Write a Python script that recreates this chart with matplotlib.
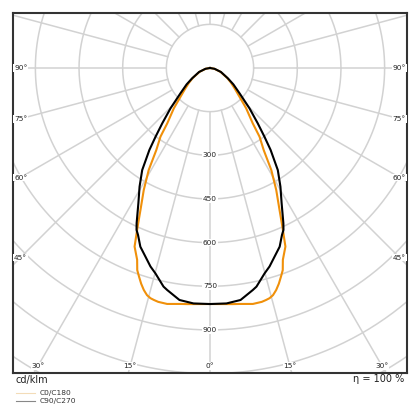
import numpy as np
import matplotlib
matplotlib.use("Agg")
import matplotlib.pyplot as plt
from matplotlib.lines import Line2D

c0_angle = [0, 5.5, 7.1, 10.3, 12.5, 13.6, 14.5, 15.5, 16.6, 17.7, 18.8, 19.8, 20.8,
            22.9, 24.5, 26.1, 28.5, 31, 33.2, 35.8, 37.7, 41.9, 45.8, 50, 55, 60,
            70, 80, 90]
c0_value = [811, 815, 817, 824, 823, 820, 817, 810, 796, 778, 757, 738, 705,
            666, 600, 543, 477, 409, 337, 291, 240, 186, 141, 112, 88, 68,
            38, 15, 0]

c90_angle = [0, 4, 7.5, 10.9, 12, 14.9, 16.7, 18.9, 21.3, 23.3, 24.4, 25.3,
             27.9, 30.7, 33.6, 36.5, 38.4, 40.8, 44.4, 49.4, 55, 60, 70, 80, 90]
c90_value = [811, 811, 804, 777, 768, 730, 712, 685, 659, 625, 611, 590,
             526, 474, 421, 350, 301, 251, 194, 134, 98, 71, 40, 16, 0]

ring_values = [150, 300, 450, 600, 750, 900, 1050, 1200, 1350, 1500]
ring_labels = [300, 450, 600, 750, 900]
side_angles = [45, 60, 75, 90]
bottom_angles = [0, 15, 30]

xmin, xmax = -676, 676
ymin, ymax = -1048, 189

orange = '#f0900a'
grid_col = '#d2d2d2'


def mirror(angle, value):
    a = np.array(angle, dtype=float)
    v = np.array(value, dtype=float)
    a = np.concatenate([-a[::-1], a[1:]])
    v = np.concatenate([v[::-1], v[1:]])
    t = np.radians(a)
    return v * np.sin(t), -v * np.cos(t)


fig = plt.figure(figsize=(4.2, 4.2), dpi=100)
ax = fig.add_axes([13/420, 47/420, 394/420, 360/420])
ax.set_xlim(xmin, xmax)
ax.set_ylim(ymin, ymax)
ax.set_aspect('equal')
ax.set_xticks([])
ax.set_yticks([])
for s in ax.spines.values():
    s.set_color('#333333')
    s.set_linewidth(1.5)

# grid
t = np.linspace(0, 2*np.pi, 400)
for r in ring_values:
    ax.plot(r*np.cos(t), r*np.sin(t), color=grid_col, lw=1.1, zorder=1)
for a in np.arange(0, 360, 15):
    ar = np.radians(a)
    ax.plot([150*np.sin(ar), 2000*np.sin(ar)], [-150*np.cos(ar), -2000*np.cos(ar)],
            color=grid_col, lw=1.1, zorder=1)

# curves
x, y = mirror(c0_angle, c0_value)
ax.plot(x, y, color=orange, lw=1.5, zorder=3, solid_joinstyle='round')
x, y = mirror(c90_angle, c90_value)
ax.plot(x, y, color='black', lw=1.5, zorder=4, solid_joinstyle='round')

# radial labels
for r in ring_labels:
    ax.text(0, -r, str(r), fontsize=5.3, ha='center', va='center', color='#222222',
            bbox=dict(boxstyle='square,pad=0.1', fc='white', ec='none'), zorder=5)

# angle labels at the frame
yb = ymin + 24
for a in bottom_angles:
    xx = -yb*np.tan(np.radians(a))
    for sgn in ([1] if a == 0 else [-1, 1]):
        ax.text(sgn*xx, yb, f'{a}°', fontsize=5.3, ha='center', va='center',
                color='#222222', zorder=5,
                bbox=dict(boxstyle='square,pad=0.1', fc='white', ec='none'))
xs = xmax - 24
for a in side_angles:
    yy = -xs/np.tan(np.radians(a)) if a != 90 else 0
    ax.text(xmin+3, yy, f'{a}°', fontsize=5.3, ha='left', va='center', color='#222222',
            zorder=5, bbox=dict(boxstyle='square,pad=0.1', fc='white', ec='none'))
    ax.text(xmax-3, yy, f'{a}°', fontsize=5.3, ha='right', va='center', color='#222222',
            zorder=5, bbox=dict(boxstyle='square,pad=0.1', fc='white', ec='none'))

fig.text(16/420, 1-383/420, 'cd/klm', fontsize=7, ha='left', va='baseline', color='#222222')
fig.text(404/420, 1-382/420, 'η = 100 %', fontsize=7, ha='right', va='baseline', color='#222222')

# legend
fig.add_artist(Line2D([16/420, 35/420], [1-392.7/420, 1-392.7/420], color='#f3dcb8', lw=0.8))
fig.add_artist(Line2D([16/420, 35/420], [1-400.7/420, 1-400.7/420], color='#888888', lw=0.8))
fig.text(40/420, 1-393/420, 'C0/C180', fontsize=5.4, ha='left', va='center', color='#333333')
fig.text(40/420, 1-400.8/420, 'C90/C270', fontsize=5.4, ha='left', va='center', color='#333333')

fig.savefig('out.png', dpi=100)
